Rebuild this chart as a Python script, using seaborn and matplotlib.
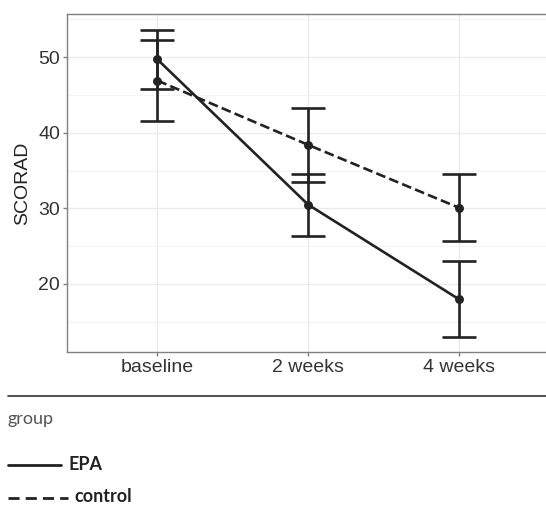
import numpy as np
import pandas as pd
import matplotlib.pyplot as plt
import seaborn as sns
from matplotlib.lines import Line2D
from matplotlib.ticker import MultipleLocator

# Valores (media y error por grupo)
times = ["baseline", "2 weeks", "4 weeks"]
groups = ["EPA", "control"]
epa_mean = [49.7, 30.5, 18.0]
epa_err = [3.9, 4.1, 5.0]
control_mean = [46.9, 38.4, 30.1]
control_err = [5.3, 4.9, 4.4]

df = pd.DataFrame({
    "time": times * 2,
    "SCORAD": epa_mean + control_mean,
    "err": epa_err + control_err,
    "group": ["EPA"] * 3 + ["control"] * 3,
})

sns.set_theme(style="whitegrid")
plt.rcParams["font.family"] = ["Liberation Sans", "DejaVu Sans"]

W, H = 546, 505
fig = plt.figure(figsize=(W / 100, H / 100), dpi=100)
ax = fig.add_axes([67 / W, 153 / H, 482 / W, 338 / H])

dark = "#222222"
sns.pointplot(data=df, x="time", y="SCORAD", hue="group", order=times,
              hue_order=groups, palette=[dark, dark], linestyles=["-", "--"],
              markers="o", errorbar=None, legend=False, ax=ax,
              markersize=5, linewidth=1.9)

# Barras de error
for g in groups:
    sub = df[df["group"] == g].set_index("time").loc[times]
    ax.errorbar(np.arange(len(times)), sub["SCORAD"], yerr=sub["err"],
                fmt="none", ecolor=dark, elinewidth=1.9, capsize=12.5,
                capthick=1.9, zorder=3)

ax.set_xlim(-0.6, 2.6)
ax.set_ylim(11.0, 55.7)
ax.yaxis.set_major_locator(MultipleLocator(10))
ax.yaxis.set_minor_locator(MultipleLocator(5))
ax.grid(which="major", color="#EBEBEB", linewidth=1.0)
ax.grid(which="minor", axis="y", color="#F3F3F3", linewidth=0.8)
ax.set_axisbelow(True)
for s in ax.spines.values():
    s.set_color("#808080")
    s.set_linewidth(1.0)
ax.tick_params(axis="both", which="major", length=3, width=1, color="#808080",
               labelsize=14, labelcolor="#333333", pad=2, left=True, bottom=True)
ax.tick_params(which="minor", length=0)
ax.set_xlabel("")
ax.set_ylabel("SCORAD", fontsize=14, color="#222222", labelpad=5)

# Leyenda debajo del grafico
lf = ["Lato", "DejaVu Sans"]
fig.add_artist(Line2D([8 / W, 1.0], [1 - 396 / H] * 2, color="#333333", linewidth=1.2))
fig.text(8 / W, 1 - 419 / H, "group", fontsize=13, color="#555555",
         family=lf, va="center", ha="left")
fig.add_artist(Line2D([8 / W, 61 / W], [1 - 465 / H] * 2, color=dark, linewidth=2.0))
fig.text(69 / W, 1 - 464 / H, "EPA", fontsize=13, color=dark, weight="bold",
         family=lf, va="center", ha="left")
fig.add_artist(Line2D([8 / W, 68 / W], [1 - 498 / H] * 2, color=dark, linewidth=2.0,
                      dashes=(4, 2.2)))
fig.text(74 / W, 1 - 497 / H, "control", fontsize=13, color=dark, weight="bold",
         family=lf, va="center", ha="left")

fig.savefig("out.png", dpi=100)
